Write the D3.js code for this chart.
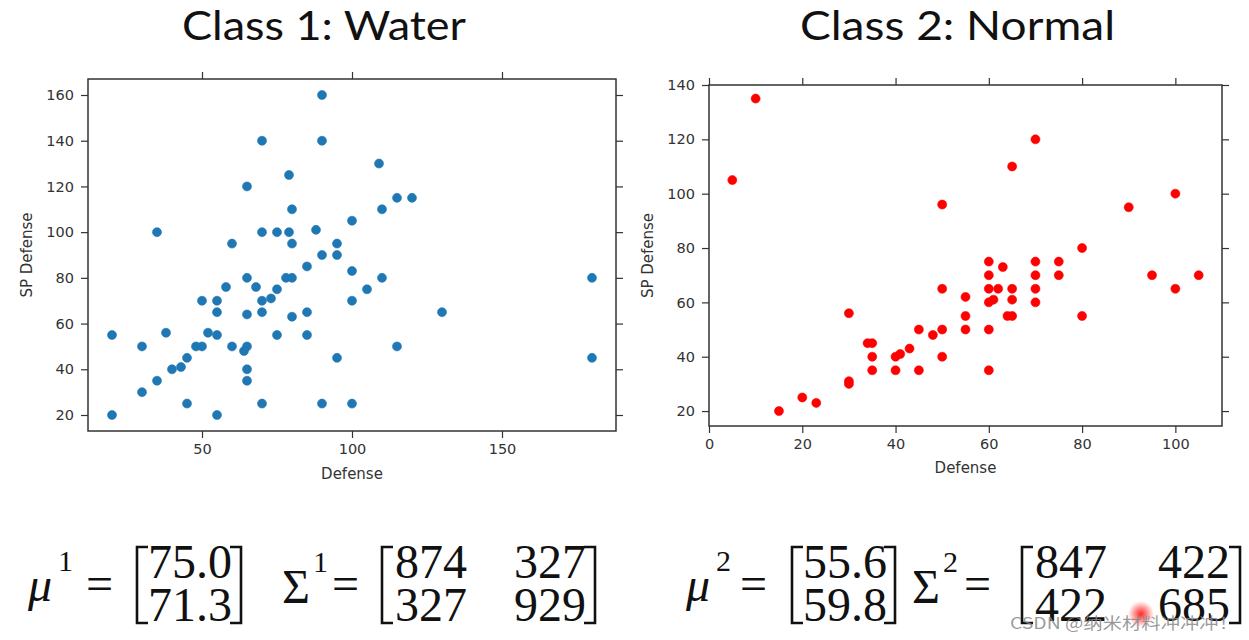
<!DOCTYPE html>
<html><head><meta charset="utf-8">
<script src="https://cdn.jsdelivr.net/npm/d3@7"></script>
<style>body{margin:0;background:#fff} svg{display:block}</style>
</head><body>
<svg id="c" width="1249" height="640"></svg>
<script>
// ---------------- data ----------------
const titles = ["Class 1: Water", "Class 2: Normal"];
const xLabel = "Defense";
const yLabel = "SP Defense";

const waterDefense   = [90,70,90,79,65,80,35,70,75,79,88,60,80,90,85,109,115,120,110,100,95,95,100,65,78,80,58,68,75,50,55,70,73,55,65,70,80,85,20,38,52,55,75,85,30,48,50,60,65,64,45,40,43,65,35,65,30,45,70,90,20,55,110,105,100,130,115,95,180,180,100];
const waterSpDefense = [160,140,140,125,120,110,100,100,100,100,101,95,95,90,85,130,115,115,110,105,95,90,83,80,80,80,76,76,75,70,70,70,71,65,64,65,63,65,55,56,56,55,55,55,50,50,50,50,50,48,45,40,41,40,35,35,30,25,25,25,20,20,80,75,70,65,50,45,80,45,25];

const normalDefense   = [10,5,50,70,65,90,100,80,60,63,70,75,50,30,34,35,35,35,40,41,43,40,45,48,50,50,45,30,30,20,23,15,60,70,75,95,105,60,62,65,70,100,55,65,60,61,70,55,64,65,80,55,60,60];
const normalSpDefense = [135,105,96,120,110,95,100,80,75,73,75,75,65,56,45,45,40,35,40,41,43,35,50,48,50,40,35,31,30,25,23,20,70,70,70,70,70,65,65,65,65,65,62,61,60,61,60,55,55,55,55,50,50,35];

const waterXTicks  = [50,100,150];
const waterYTicks  = [20,40,60,80,100,120,140,160];
const normalXTicks = [0,20,40,60,80,100];
const normalYTicks = [20,40,60,80,100,120,140];

const mu1 = ["75.0","71.3"];
const sigma1 = [["874","327"],["327","929"]];
const mu2 = ["55.6","59.8"];
const sigma2 = [["847","422"],["422","685"]];
const watermark = "CSDN @纳米材料冲冲冲！";

// ---------------- drawing ----------------
const svg = d3.select("#c");
const tickFont = "'DejaVu Sans', sans-serif";
const txtCol = "#333";

function panel(o) {
  const x = d3.scaleLinear().domain(o.xDomain).range([o.left, o.right]);
  const y = d3.scaleLinear().domain(o.yDomain).range([o.bottom, o.top]);
  const g = svg.append("g");

  const style = sel => {
    sel.select(".domain").remove();
    sel.selectAll(".tick line").attr("stroke", "#333").attr("stroke-width", 1.2);
    sel.selectAll(".tick text").attr("fill", txtCol).attr("font-family", tickFont).attr("font-size", 14.5);
  };
  g.append("g").attr("transform", `translate(0,${o.bottom})`)
    .call(d3.axisBottom(x).tickValues(o.xTicks).tickSize(7).tickPadding(6).tickFormat(d3.format("d"))).call(style);
  g.append("g").attr("transform", `translate(0,${o.top})`)
    .call(d3.axisTop(x).tickValues(o.xTicks).tickSize(7).tickFormat("")).call(style);
  g.append("g").attr("transform", `translate(${o.left},0)`)
    .call(d3.axisLeft(y).tickValues(o.yTicks).tickSize(7).tickPadding(7).tickFormat(d3.format("d"))).call(style);
  g.append("g").attr("transform", `translate(${o.right},0)`)
    .call(d3.axisRight(y).tickValues(o.yTicks).tickSize(7).tickFormat("")).call(style);

  g.append("g").selectAll("circle").data(o.xs.map((d, i) => [d, o.ys[i]])).join("circle")
    .attr("cx", d => x(d[0])).attr("cy", d => y(d[1])).attr("r", o.r)
    .attr("fill", o.color).attr("stroke", o.color).attr("stroke-width", 0.6);

  g.append("rect").attr("x", o.left).attr("y", o.top)
    .attr("width", o.right - o.left).attr("height", o.bottom - o.top)
    .attr("fill", "none").attr("stroke", "#333").attr("stroke-width", 1.5);

  g.append("text").attr("x", (o.left + o.right) / 2).attr("y", o.xLabelY)
    .attr("text-anchor", "middle").attr("font-family", tickFont).attr("font-size", 15)
    .attr("fill", txtCol).text(xLabel);
  g.append("text").attr("transform", `translate(${o.yLabelX},${(o.top + o.bottom) / 2}) rotate(-90)`)
    .attr("text-anchor", "middle").attr("font-family", tickFont).attr("font-size", 15)
    .attr("fill", txtCol).text(yLabel);

  svg.append("text").attr("x", o.titleX).attr("y", 40)
    .attr("font-family", "Lato, 'Open Sans', sans-serif").attr("font-size", 40)
    .attr("fill", "#111").attr("textLength", o.titleW).attr("lengthAdjust", "spacingAndGlyphs")
    .text(o.title);
}

panel({
  left: 88, right: 616, top: 79, bottom: 431,
  xDomain: [12, 188], yDomain: [13, 167],
  xTicks: waterXTicks, yTicks: waterYTicks,
  xs: waterDefense, ys: waterSpDefense, color: "#1f77b4", r: 4.5,
  xLabelY: 479, yLabelX: 32, title: titles[0], titleX: 182, titleW: 284
});
panel({
  left: 709, right: 1222, top: 85, bottom: 426,
  xDomain: [0, 110], yDomain: [14.5, 140],
  xTicks: normalXTicks, yTicks: normalYTicks,
  xs: normalDefense, ys: normalSpDefense, color: "#ff0000", r: 4.5,
  xLabelY: 473, yLabelX: 653, title: titles[1], titleX: 800, titleW: 315
});

// ---------------- formulas ----------------
const mf = "'Liberation Serif', 'Times New Roman', serif";
const fs = 48;
function t(x, yy, s, size, italic) {
  svg.append("text").attr("x", x).attr("y", yy).attr("font-family", mf)
    .attr("font-size", size).attr("font-style", italic ? "italic" : "normal")
    .attr("fill", "#111").text(s);
}
function bracket(x0, x1, top, bot, open) {
  const xv = open ? x0 : x1, xe = open ? x1 : x0;
  svg.append("path").attr("d", `M${xe},${top}H${xv}V${bot}H${xe}`)
    .attr("fill", "none").attr("stroke", "#111").attr("stroke-width", 2.6);
}
function formula(o) {
  t(o.muX, 601, "μ", fs, true);
  t(o.muX + 30, 571, o.idx, 30, false);
  t(o.eq1X, 600, "=", fs, false);
  bracket(o.b1, o.b1 + 11, 547, 623, true);
  t(o.b1 + 11, 578, o.mu[0], fs, false);
  t(o.b1 + 11, 621, o.mu[1], fs, false);
  bracket(o.b1e - 11, o.b1e, 547, 623, false);
  t(o.sgX, 603, "Σ", fs, false);
  t(o.sgX + 31, 572, o.idx, 30, false);
  t(o.eq2X, 600, "=", fs, false);
  bracket(o.b2, o.b2 + 11, 547, 623, true);
  t(o.b2 + 13, 578, o.sg[0][0], fs, false);
  t(o.c2X, 578, o.sg[0][1], fs, false);
  t(o.b2 + 13, 621, o.sg[1][0], fs, false);
  t(o.c2X, 621, o.sg[1][1], fs, false);
  bracket(o.b2e - 11, o.b2e, 547, 623, false);
}
formula({ idx: "1", mu: mu1, sg: sigma1, muX: 28, eq1X: 86, b1: 137, b1e: 241,
  sgX: 282, eq2X: 332, b2: 382, c2X: 514, b2e: 595 });
formula({ idx: "2", mu: mu2, sg: sigma2, muX: 686, eq1X: 740, b1: 792, b1e: 895,
  sgX: 912, eq2X: 964, b2: 1022, c2X: 1158, b2e: 1240 });

// watermark
const defs = svg.append("defs");
const rg = defs.append("radialGradient").attr("id", "cur");
rg.append("stop").attr("offset", "0%").attr("stop-color", "#ff0000").attr("stop-opacity", 0.85);
rg.append("stop").attr("offset", "100%").attr("stop-color", "#ff0000").attr("stop-opacity", 0);
svg.append("circle").attr("cx", 1141).attr("cy", 614).attr("r", 13).attr("fill", "url(#cur)");
svg.append("text").attr("x", 1010).attr("y", 629)
  .attr("font-family", "'Noto Sans CJK SC', sans-serif").attr("font-size", 16)
  .attr("textLength", 228).attr("lengthAdjust", "spacingAndGlyphs")
  .attr("fill", "#888").attr("fill-opacity", 0.85).text(watermark);
</script>
</body></html>
